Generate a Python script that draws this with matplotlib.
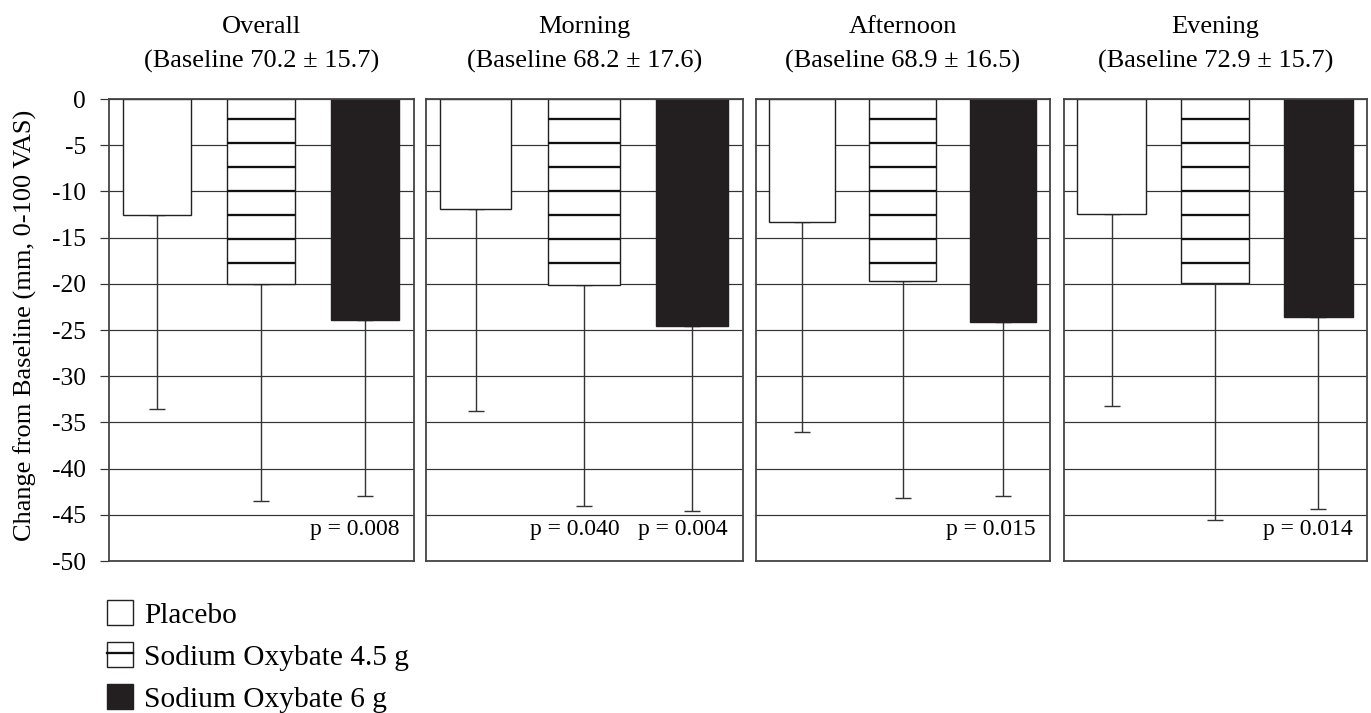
import matplotlib
matplotlib.use('Agg')
import matplotlib.pyplot as plt
from matplotlib.patches import Patch
from matplotlib.lines import Line2D
import numpy as np

plt.rcParams['font.family'] = ['Liberation Serif', 'DejaVu Serif']
plt.rcParams['axes.unicode_minus'] = False

# ---- data ----
panels = ['Overall', 'Morning', 'Afternoon', 'Evening']
baselines = ['70.2 \u00b1 15.7', '68.2 \u00b1 17.6', '68.9 \u00b1 16.5', '72.9 \u00b1 15.7']
groups = ['Placebo', 'Sodium Oxybate 4.5 g', 'Sodium Oxybate 6 g']

placebo = [-12.6, -11.9, -13.3, -12.4]
oxy45 = [-20.0, -20.1, -19.7, -19.9]
oxy6 = [-23.9, -24.6, -24.1, -23.6]

placebo_sd = [21.0, 21.9, 22.7, 20.8]
oxy45_sd = [23.5, 23.9, 23.5, 25.7]
oxy6_sd = [19.1, 20.0, 18.9, 20.8]

# (group index, text) per panel
p_labels = [
    [(2, 'p = 0.008')],
    [(1, 'p = 0.040'), (2, 'p = 0.004')],
    [(2, 'p = 0.015')],
    [(2, 'p = 0.014')],
]

# ---- styling ----
fills = ['white', 'white', '#231f20']
edge = '#222222'
stripe_first, stripe_step = 2.15, 2.6   # horizontal stripe pattern of the 4.5 g bars
stripe_lw = 1.15

W, H, DPI = 1371, 713, 144
fig = plt.figure(figsize=(W / DPI + 0.0002, H / DPI + 0.0002), dpi=DPI)

# axes boxes in pixels (left, right), shared top/bottom
boxes = [(109, 414), (426, 743), (756, 1050), (1064, 1367)]
top, bottom = 99, 561

x = np.arange(len(groups))
for i, panel in enumerate(panels):
    l, r = boxes[i]
    ax = fig.add_axes([l / W, 1 - bottom / H, (r - l) / W, (bottom - top) / H])
    vals = [placebo[i], oxy45[i], oxy6[i]]
    sds = [placebo_sd[i], oxy45_sd[i], oxy6_sd[i]]

    bars = ax.bar(x, vals, width=0.66, color=fills, edgecolor=[edge, edge, '#231f20'],
                  linewidth=0.7, zorder=2)
    # stripes inside the 4.5 g bar
    b = bars[1]
    ys = -np.arange(stripe_first, abs(vals[1]), stripe_step)
    ax.hlines(ys, b.get_x(), b.get_x() + b.get_width(), color='#111111',
              linewidth=stripe_lw, zorder=2.1)

    ax.errorbar(x, vals, yerr=[sds, np.zeros(len(x))], fmt='none', ecolor='#333333',
                elinewidth=0.7, capsize=4, capthick=0.7, zorder=1.9)

    ax.set_xlim(-0.46, 2.47)
    ax.set_ylim(-50, 0)
    ax.set_yticks(np.arange(-50, 1, 5))
    ax.set_xticks([])
    ax.yaxis.grid(True, color='#333333', linewidth=0.6)
    ax.set_axisbelow(True)
    for sp in ax.spines.values():
        sp.set_color('#444444')
        sp.set_linewidth(0.9)

    if i == 0:
        ax.tick_params(axis='y', direction='out', length=4.5, width=0.6,
                       color='#333333', labelsize=12.75, pad=7)
    else:
        ax.tick_params(axis='y', left=False, labelleft=False)

    ax.set_title(f'{panel}\n(Baseline {baselines[i]})', fontsize=13.2,
                 linespacing=1.7, pad=15.5)

    for gi, txt in p_labels[i]:
        ax.text(x[gi] + 0.33, -47.2, txt, ha='right', va='baseline', fontsize=11.8)

fig.text(25 / W, 1 - 325 / H, 'Change from Baseline (mm, 0-100 VAS)', rotation=90,
         ha='center', va='center', fontsize=13.2)

handles = [
    Patch(facecolor='white', edgecolor=edge, linewidth=0.7),
    (Patch(facecolor='white', edgecolor=edge, linewidth=0.7),
     Line2D([], [], color='#111111', linewidth=stripe_lw)),
    Patch(facecolor='#231f20', edgecolor='#231f20', linewidth=0.7),
]
fig.legend(handles, groups, loc='upper left', bbox_to_anchor=(107 / W, 1 - 600 / H),
           frameon=False, fontsize=14.7, handlelength=0.9, handleheight=0.95,
           handletextpad=0.35, labelspacing=0.45, borderpad=0, borderaxespad=0)

fig.savefig('out.png', dpi=DPI, facecolor='white')
